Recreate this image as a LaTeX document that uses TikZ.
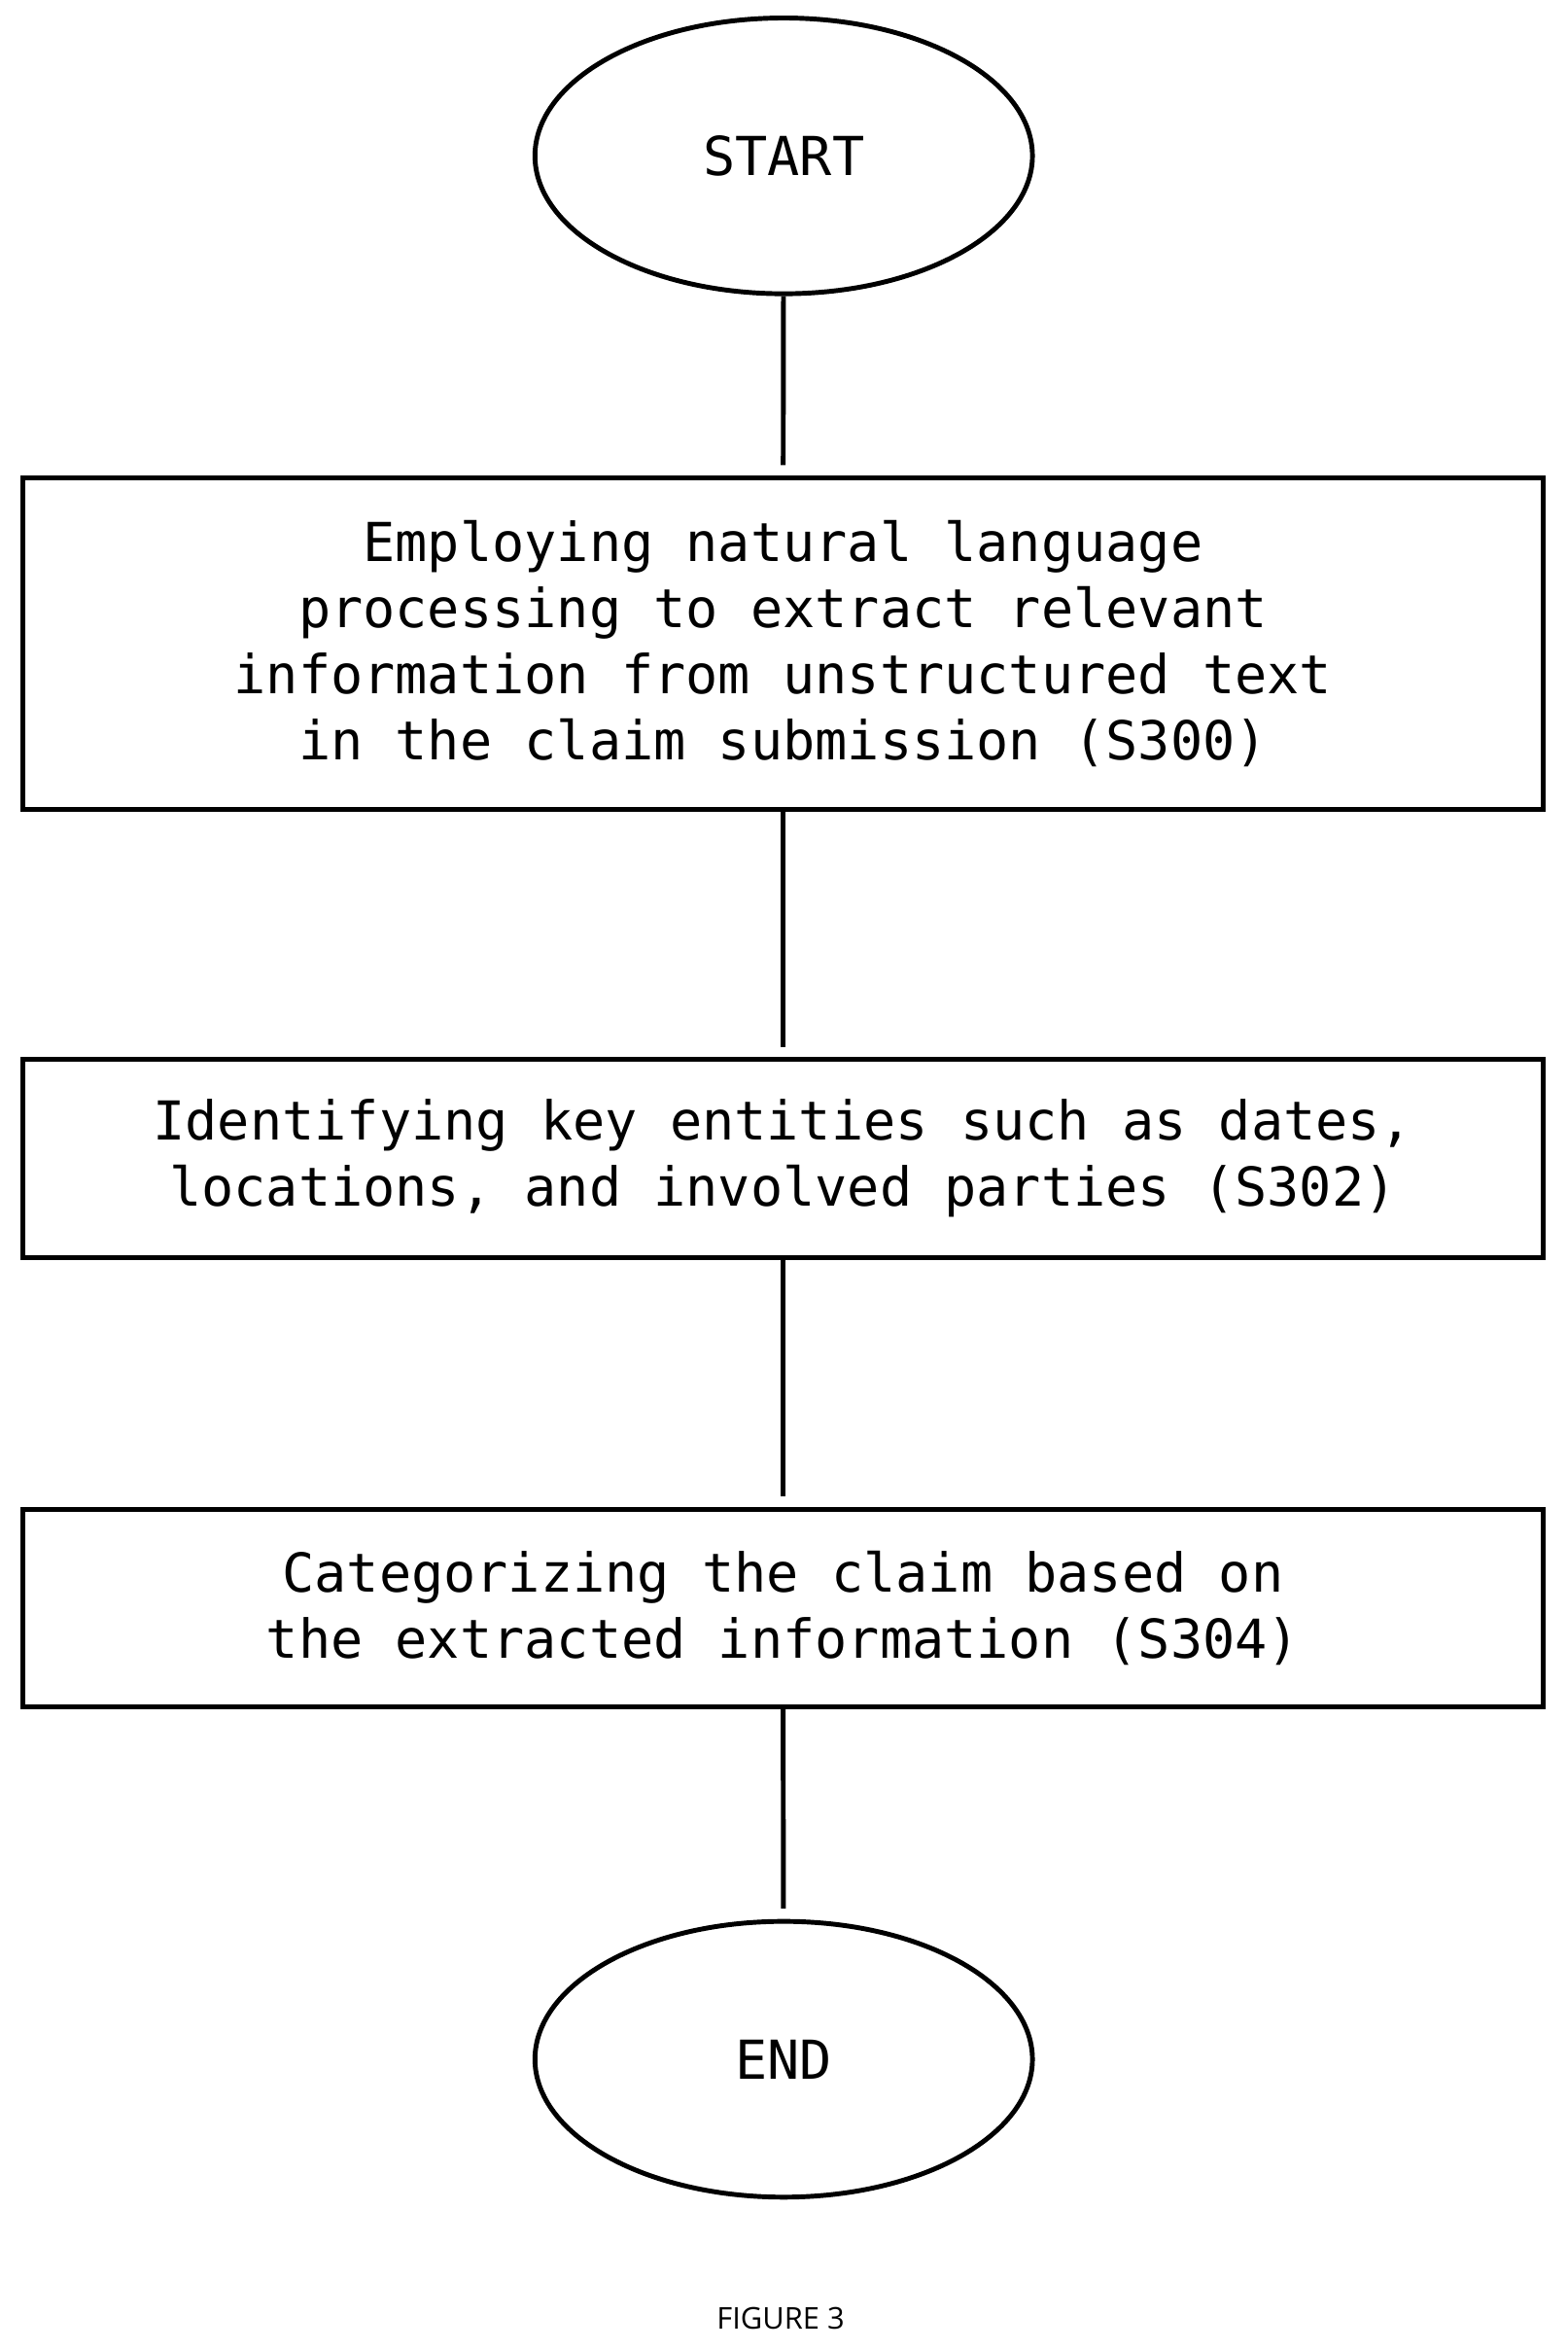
\documentclass[tikz,border=0pt]{standalone}
\usepackage{fontspec}
\setmonofont{DejaVu Sans Mono}
\newfontfamily\capfont{Open Sans}
\usetikzlibrary{shapes.geometric}
\begin{document}
\begin{tikzpicture}[x=0.5pt,y=-0.5pt,
  every node/.style={font=\ttfamily\fontsize{17.9}{22}\selectfont, align=center, inner sep=0pt},
  term/.style={draw, line width=1.6pt, ellipse, minimum width=166pt, minimum height=92pt},
  box/.style={draw, line width=1.6pt, minimum width=507.5pt},
  link/.style={line width=1.6pt, shorten >=3.5pt}]
\useasboundingbox (0,0) rectangle (1046,1568);
\node[term] (start) at (523,104) {START};
\node[box, minimum height=110.5pt] (s300) at (522.5,429.5) {Employing natural language\\processing to extract relevant\\information from unstructured text\\in the claim submission (S300)};
\node[box, minimum height=66pt] (s302) at (522.5,773) {Identifying key entities such as dates,\\locations, and involved parties (S302)};
\node[box, minimum height=66pt] (s304) at (522.5,1073) {Categorizing the claim based on\\the extracted information (S304)};
\node[term] (end) at (523,1374) {END};
\node[font=\capfont\fontsize{10}{12}\selectfont] (fig) at (521,1547) {FIGURE 3};
\draw[link] (start) -- (s300);
\draw[link] (s300) -- (s302);
\draw[link] (s302) -- (s304);
\draw[link] (s304) -- (end);
\end{tikzpicture}
\end{document}
